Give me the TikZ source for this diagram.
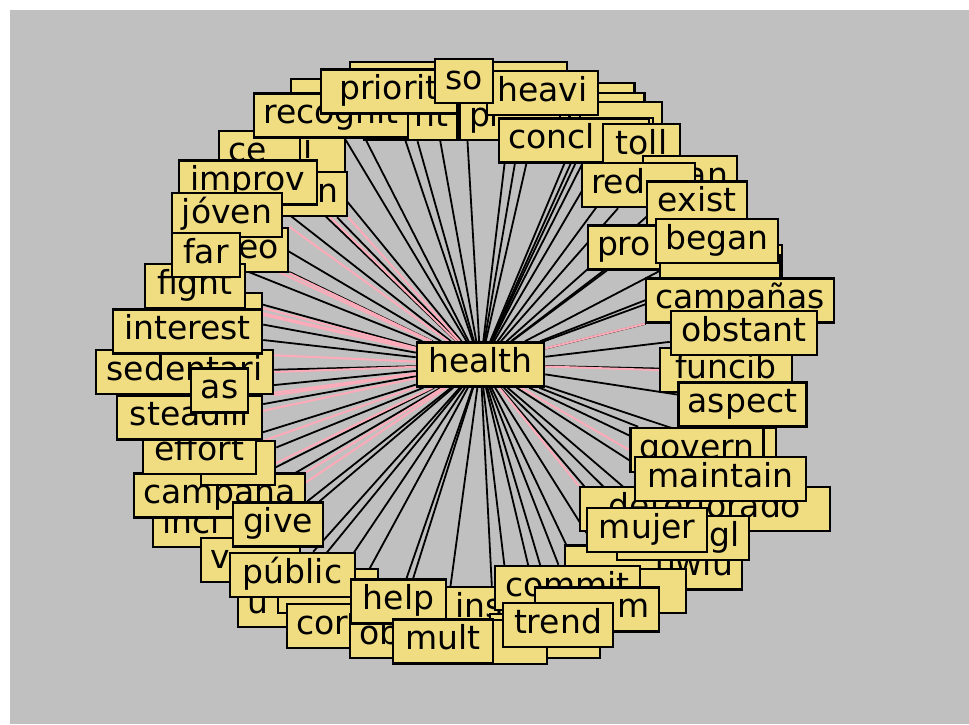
\documentclass[tikz,border=0pt]{standalone}
\usepackage{fontspec}
\usepackage{xcolor}
\newfontfamily\wordfamily{DejaVu Sans}
\newcommand{\wordfont}{\wordfamily\fontsize{33}{36}\selectfont}
\definecolor{wordfill}{RGB}{240,221,130}
\definecolor{panelgray}{RGB}{192,192,192}
\definecolor{linkpink}{RGB}{255,170,185}
\pgfdeclarelayer{panel}
\pgfdeclarelayer{links}
\pgfsetlayers{panel,links,main}
\tikzset{
  word/.style={draw=black, line width=2.5pt, fill=wordfill, font=\wordfont,
    minimum height=44pt, inner xsep=9pt, inner ysep=0pt, text height=24pt, text depth=8pt},
  wordl/.style={word, text width=#1, align=left},
  wordr/.style={word, text width=#1, align=right},
  link/.style={draw=black, line width=1.8pt},
  pinklink/.style={draw=linkpink, line width=2pt}
}

\begin{document}
\begin{tikzpicture}[x=1pt, y=-1pt]
\useasboundingbox (0,0) rectangle (969,724);
\begin{pgfonlayer}{panel}
\fill[panelgray] (10,10) rectangle (969,724);
\end{pgfonlayer}

% top of the ring
\node[word, minimum width=160pt] (tb1) at (430,84) {};
\node[word, minimum width=77pt] (tb2) at (528.5,84) {};
\node[word, minimum width=75pt] (tr1) at (597,105) {};
\node[word, minimum width=75pt] (tr2) at (607,115) {};
\node[word, minimum width=82pt] (tr3) at (621,124) {};
\node[wordr=75pt] (nt) at (411,118) {nt};
\node[wordl=82pt] (pr) at (510,118) {pr};
\node[word, minimum width=110pt] (rb) at (346,101) {};
\node[wordl=62pt] (al) at (305,150) {ali};
\node[wordl=63pt] (ce) at (259.5,153) {ce};
\node[wordr=47pt] (nb) at (314.5,194) {n};
\node[word, minimum width=154pt] (recognit) at (331,115.5) {recognit};
\node[word, minimum width=136pt] (priorit) at (389,91.5) {priorit};
\node[word, minimum width=111pt] (heavi) at (542.5,93) {heavi};
\node[word, minimum width=58pt] (so) at (464,81) {so};
\node[word, minimum width=133pt] (cb) at (586.5,140) {};
\node[wordl=132pt] (concl) at (574,140.5) {concl};
\node[word, minimum width=77pt] (toll) at (641.5,146) {toll};

% right side
\node[wordr=76pt] (an) at (690,178) {an};
\node[wordl=95pt] (red) at (638.5,185) {red};
\node[word, minimum width=100pt] (exist) at (697,203.5) {exist};
\node[wordl=74pt] (pro) at (634,247.5) {pro};
\node[word, minimum width=103pt] (bg1) at (730.5,267) {};
\node[word, minimum width=120pt] (bg2) at (720,277) {};
\node[word, minimum width=122pt] (began) at (717,241) {began};
\node[word, minimum width=186pt] (campanas) at (740,300.5) {campañas};
\node[word, minimum width=132pt] (funcib) at (726,370) {funcib};
\node[word, minimum width=146pt] (obstant) at (744,333) {obstant};
\node[word, minimum width=127pt] (aspect) at (742.5,404.5) {aspect};
\node[word, minimum width=76pt] (gb) at (738,450) {};
\node[word, minimum width=132pt] (govern) at (697,450) {govern};
\node[word, minimum width=250pt] (deteriorado) at (705,509) {deteriorado};
\node[word, minimum width=171pt] (maintain) at (720.5,479) {maintain};
\node[wordr=159pt] (uwiu) at (653.5,567.5) {uwiu};
\node[wordr=114pt] (gl) at (683,538) {gl};
\node[word, minimum width=120pt] (mujer) at (647,530) {mujer};
\node[word, minimum width=126pt] (gk) at (623,591) {};
\node[wordl=76pt] (ins) at (493,609) {ins};
\node[word, minimum width=145pt] (commit) at (567.5,588) {commit};
\node[wordr=106pt] (m) at (597,609.5) {m};
\node[word, minimum width=110pt] (bb1) at (545,636) {};
\node[word, minimum width=67pt] (bb2) at (513.5,642) {};
\node[word, minimum width=110pt] (trend) at (558,625) {trend};

% left side
\node[wordr=70pt] (eo) at (244,250) {eo};
\node[word, minimum width=138pt] (improv) at (248,182.5) {improv};
\node[word, minimum width=110pt] (joven) at (227,215) {jóven};
\node[word, minimum width=102pt] (fb) at (211,315) {};
\node[word, minimum width=100pt] (fight) at (195,286) {fight};
\node[word, minimum width=68pt] (far) at (206,255) {far};
\node[word, minimum width=177pt] (sedentari) at (184.5,372) {sedentari};
\node[word, minimum width=149pt] (interest) at (187.5,331.5) {interest};
\node[wordl=89pt] (incl) at (206.5,525) {incl};
\node[word, minimum width=171pt] (campana) at (219.5,495.5) {campaña};
\node[word, minimum width=74pt] (eb) at (238,463) {};
\node[word, minimum width=113pt] (effort) at (199.5,452) {effort};
\node[word, minimum width=145pt] (steadili) at (189.5,417.5) {steadili};
\node[word, minimum width=57pt] (asn) at (219.5,390.5) {as};

% bottom of the ring
\node[wordl=81pt] (vb) at (250.5,560) {v};
\node[wordl=74pt] (ub) at (284,605) {u};
\node[word, minimum width=100pt] (gm) at (328,591) {};
\node[wordl=85pt] (cor) at (338.5,626) {cor};
\node[wordl=72pt] (ob) at (395,636) {ob};
\node[word, minimum width=90pt] (give) at (278,524.5) {give};
\node[word, minimum width=125pt] (public) at (292.5,575) {públic};
\node[word, minimum width=95pt] (help) at (398.5,601.5) {help};
\node[word, minimum width=100pt] (mult) at (443,641.5) {mult};

% centre
\node[word, minimum width=127pt] (health) at (480.5,364.5) {health};

\begin{pgfonlayer}{links}
\foreach \n in {tb1,tb2,tr1,tr2,tr3,nt,pr,rb,al,ce,nb,recognit,priorit,heavi,so,cb,concl,toll,
  an,red,exist,pro,bg1,bg2,began,campanas,funcib,obstant,aspect,gb,govern,deteriorado,maintain,
  uwiu,gl,mujer,gk,commit,m,bb1,bb2,trend,eo,improv,joven,fb,fight,far,sedentari,interest,
  incl,campana,eb,effort,steadili,asn,vb,ub,gm,cor,ob,ins,give,public,help,mult}
  \draw[link] (health) -- (\n);
\foreach \n in {nb.south east,improv.south east,eo.north east,eo.south east,far.east,
  fight.south east,fb.east,interest.north east,interest.south east,sedentari.east,
  sedentari.south east,asn.south east,steadili.north east,steadili.south east,eb.east,
  campana.north east,give.north,campanas.south west,funcib.west,govern.west,
  deteriorado.north west}
  \draw[pinklink] (health) -- (\n);
\end{pgfonlayer}
\end{tikzpicture}
\end{document}
